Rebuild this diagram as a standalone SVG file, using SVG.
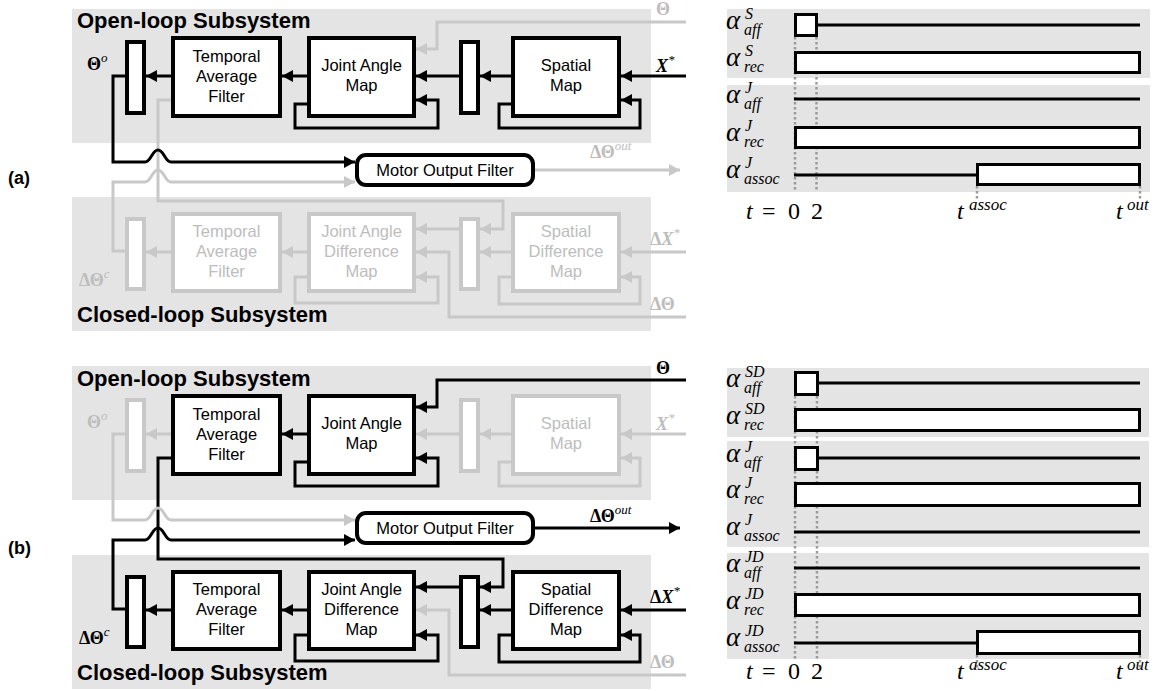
<svg xmlns="http://www.w3.org/2000/svg" width="1158" height="691" viewBox="0 0 1158 691">
<defs>
<style>
.bg{fill:#e4e4e4}
.k{fill:#fff;stroke:#000;stroke-width:4}
.g{fill:#fff;stroke:#c8c8c8;stroke-width:4}
.mof{fill:#fff;stroke:#000;stroke-width:4}
.lk{fill:none;stroke:#000;stroke-width:3;marker-end:url(#ah)}
.lg{fill:none;stroke:#c8c8c8;stroke-width:3;marker-end:url(#ahg)}
text{font-family:"Liberation Sans",Arial,sans-serif}
.tk{font-size:16.5px;text-anchor:middle;fill:#000}
.tg{font-size:16.5px;text-anchor:middle;fill:#bdbdbd}
.ttl{font-size:22px;font-weight:bold;fill:#000}
.m{font-family:"Liberation Serif","Times New Roman",serif;font-size:18px}
.mb{font-weight:bold}
.mi{font-style:italic}
.sup{font-size:13px;font-style:italic;font-weight:normal}
.gm{fill:#bdbdbd}
.tl{fill:none;stroke:#000;stroke-width:3}
.tr{fill:#fff;stroke:#000;stroke-width:3}
.dot{fill:none;stroke:#9a9a9a;stroke-width:2.5;stroke-dasharray:2.5 2.5}
.al{font-family:"Liberation Serif","Times New Roman",serif;font-size:27px;font-style:italic}
.as{font-family:"Liberation Serif","Times New Roman",serif;font-size:16px;font-style:italic}
.tt{font-family:"Liberation Serif","Times New Roman",serif;font-size:24px}
.ts{font-family:"Liberation Serif","Times New Roman",serif;font-size:17px;font-style:italic}
.panel{font-family:"Liberation Sans",Arial,sans-serif;font-size:18px;font-weight:bold}
</style>
<marker id="ah" markerUnits="userSpaceOnUse" markerWidth="11" markerHeight="12" refX="11" refY="6" orient="auto"><path d="M0,0L11,6L0,12z" fill="#000"/></marker>
<marker id="ahg" markerUnits="userSpaceOnUse" markerWidth="11" markerHeight="12" refX="11" refY="6" orient="auto"><path d="M0,0L11,6L0,12z" fill="#c8c8c8"/></marker>
</defs>

<text class="panel" x="8" y="184">(a)</text>
<text class="panel" x="8" y="554">(b)</text>

<!-- ===== Panel (a) backgrounds ===== -->
<g id="a-backgrounds">
<rect class="bg" x="72" y="9" width="579" height="134"/>
<rect class="bg" x="72" y="197" width="579" height="134"/>
<text class="ttl" x="77" y="28">Open-loop Subsystem</text>
<text class="ttl" x="77" y="322">Closed-loop Subsystem</text>
</g>

<!-- ===== Panel (a) connectors ===== -->
<g id="a-connectors">
<path class="lg" d="M686,22H437V49H416"/>
<path class="lk" d="M686,76H621"/>
<path class="lk" d="M511,76H480"/>
<path class="lk" d="M459,76H416"/>
<path class="lk" d="M307,76H282"/>
<path class="lk" d="M171,76H146"/>
<path class="lk" d="M513,104H499V128H640V100H621"/>
<path class="lk" d="M309,104H295V128H438V100H416"/>
<path class="lg" d="M171,100H158V201H503V229H480"/>
<path class="lk" d="M125,76H113V162H145C151,162 152,150 158,150C164,150 165,162 171,162H355"/>
<path class="lg" d="M125,251H113V182H145C151,182 152,170 158,170C164,170 165,182 171,182H355"/>
<path class="lg" d="M535,170H680"/>
<path class="lg" d="M686,252H621"/>
<path class="lg" d="M511,252H480"/>
<path class="lg" d="M459,229H416"/>
<path class="lg" d="M686,317H449V252H416"/>
<path class="lg" d="M513,277H499V304H640V277H621"/>
<path class="lg" d="M309,277H295V303H438V277H416"/>
<path class="lg" d="M307,252H282"/>
<path class="lg" d="M171,252H146"/>
</g>

<!-- ===== Panel (a) nodes ===== -->
<g id="a-ol-bar"><rect class="k" x="127" y="42" width="17" height="71"/></g>
<g id="a-ol-taf"><rect class="k" x="173" y="38" width="107" height="78"/>
<text class="tk" x="226.5" y="62">Temporal</text><text class="tk" x="226.5" y="82">Average</text><text class="tk" x="226.5" y="102">Filter</text></g>
<g id="a-ol-ja"><rect class="k" x="309" y="38" width="105" height="78"/>
<text class="tk" x="361.5" y="71">Joint Angle</text><text class="tk" x="361.5" y="91">Map</text></g>
<g id="a-ol-sbar"><rect class="k" x="461" y="42" width="17" height="71"/></g>
<g id="a-ol-sm"><rect class="k" x="513" y="38" width="106" height="78"/>
<text class="tk" x="566" y="71">Spatial</text><text class="tk" x="566" y="91">Map</text></g>
<g id="a-mof"><rect class="mof" x="357" y="155" width="176" height="30" rx="9"/>
<text class="tk" x="445" y="176">Motor Output Filter</text></g>
<g id="a-cl-bar"><rect class="g" x="127" y="219" width="17" height="70"/></g>
<g id="a-cl-taf"><rect class="g" x="173" y="214" width="107" height="77"/>
<text class="tg" x="226.5" y="237">Temporal</text><text class="tg" x="226.5" y="257">Average</text><text class="tg" x="226.5" y="277">Filter</text></g>
<g id="a-cl-jad"><rect class="g" x="309" y="214" width="105" height="77"/>
<text class="tg" x="361.5" y="237">Joint Angle</text><text class="tg" x="361.5" y="257">Difference</text><text class="tg" x="361.5" y="277">Map</text></g>
<g id="a-cl-sbar"><rect class="g" x="461" y="219" width="17" height="70"/></g>
<g id="a-cl-sdm"><rect class="g" x="513" y="214" width="106" height="77"/>
<text class="tg" x="566" y="237">Spatial</text><text class="tg" x="566" y="257">Difference</text><text class="tg" x="566" y="277">Map</text></g>

<g id="a-labels">
<text class="m mb" x="87" y="70">Θ<tspan class="sup" dy="-8">o</tspan></text>
<text class="m mb gm" x="656" y="15">Θ</text>
<text class="m mb mi" x="656" y="72">X<tspan class="sup" dy="-8" font-style="normal">*</tspan></text>
<text class="m mb gm" x="590" y="158">ΔΘ<tspan class="sup" dy="-8">out</tspan></text>
<text class="m mb gm" x="79" y="286">ΔΘ<tspan class="sup" dy="-8">c</tspan></text>
<text class="m mb gm" x="650" y="245">Δ<tspan font-style="italic">X</tspan><tspan class="sup" dy="-8" font-style="normal">*</tspan></text>
<text class="m mb gm" x="650" y="310">ΔΘ</text>
</g>

<!-- ===== Panel (a) timing ===== -->
<g id="a-timing">
<rect class="bg" x="727" y="9" width="423" height="69"/>
<rect class="bg" x="727" y="85" width="423" height="107"/>
<path class="dot" d="M795,37V192M816.5,37V192M977,186V200M1140,186V200"/>
<rect class="tr" x="795.5" y="14.5" width="21" height="21"/>
<path class="tl" d="M817,25H1140"/>
<rect class="tr" x="795.5" y="52.5" width="344" height="20"/>
<path class="tl" d="M794,99H1140"/>
<rect class="tr" x="795.5" y="127.5" width="344" height="20"/>
<path class="tl" d="M794,175H977"/>
<rect class="tr" x="977.5" y="164.5" width="162" height="20"/>
<text class="al" x="726" y="29">α</text><text class="as" x="745" y="19">S</text><text class="as" x="744" y="35">aff</text>
<text class="al" x="726" y="66">α</text><text class="as" x="745" y="56">S</text><text class="as" x="744" y="72">rec</text>
<text class="al" x="726" y="103">α</text><text class="as" x="745" y="93">J</text><text class="as" x="744" y="109">aff</text>
<text class="al" x="726" y="141">α</text><text class="as" x="745" y="131">J</text><text class="as" x="744" y="147">rec</text>
<text class="al" x="726" y="178">α</text><text class="as" x="745" y="168">J</text><text class="as" x="744" y="184">assoc</text>
<text class="tt" x="746" y="219" font-style="italic">t</text><text class="tt" x="762" y="219">=</text>
<text class="tt" x="788" y="219">0</text><text class="tt" x="811" y="219">2</text>
<text class="tt" x="957" y="219" font-style="italic">t</text><text class="ts" x="969" y="210">assoc</text>
<text class="tt" x="1116" y="219" font-style="italic">t</text><text class="ts" x="1127" y="210">out</text>
</g>

<!-- ===== Panel (b) backgrounds ===== -->
<g id="b-backgrounds">
<rect class="bg" x="72" y="366" width="579" height="134"/>
<rect class="bg" x="72" y="555" width="579" height="134"/>
<text class="ttl" x="77" y="386">Open-loop Subsystem</text>
<text class="ttl" x="77" y="680">Closed-loop Subsystem</text>
</g>

<!-- ===== Panel (b) connectors ===== -->
<g id="b-connectors">
<path class="lk" d="M686,380H437V407H416"/>
<path class="lg" d="M686,434H621"/>
<path class="lg" d="M511,434H480"/>
<path class="lg" d="M459,434H416"/>
<path class="lk" d="M307,434H282"/>
<path class="lg" d="M171,434H146"/>
<path class="lg" d="M513,462H499V486H640V458H621"/>
<path class="lk" d="M309,462H295V486H438V458H416"/>
<path class="lk" d="M171,458H158V559H503V587H480"/>
<path class="lg" d="M125,434H113V520H145C151,520 152,508 158,508C164,508 165,520 171,520H355"/>
<path class="lk" d="M125,609H113V540H145C151,540 152,528 158,528C164,528 165,540 171,540H355"/>
<path class="lk" d="M535,528H680"/>
<path class="lk" d="M686,610H621"/>
<path class="lk" d="M511,610H480"/>
<path class="lk" d="M459,587H416"/>
<path class="lg" d="M686,675H449V610H416"/>
<path class="lk" d="M513,635H499V662H640V635H621"/>
<path class="lk" d="M309,635H295V661H438V635H416"/>
<path class="lk" d="M307,610H282"/>
<path class="lk" d="M171,610H146"/>
</g>

<!-- ===== Panel (b) nodes ===== -->
<g id="b-ol-bar"><rect class="g" x="127" y="400" width="17" height="71"/></g>
<g id="b-ol-taf"><rect class="k" x="173" y="396" width="107" height="78"/>
<text class="tk" x="226.5" y="420">Temporal</text><text class="tk" x="226.5" y="440">Average</text><text class="tk" x="226.5" y="460">Filter</text></g>
<g id="b-ol-ja"><rect class="k" x="309" y="396" width="105" height="78"/>
<text class="tk" x="361.5" y="429">Joint Angle</text><text class="tk" x="361.5" y="449">Map</text></g>
<g id="b-ol-sbar"><rect class="g" x="461" y="400" width="17" height="71"/></g>
<g id="b-ol-sm"><rect class="g" x="513" y="396" width="106" height="78"/>
<text class="tg" x="566" y="429">Spatial</text><text class="tg" x="566" y="449">Map</text></g>
<g id="b-mof"><rect class="mof" x="357" y="513" width="176" height="30" rx="9"/>
<text class="tk" x="445" y="534">Motor Output Filter</text></g>
<g id="b-cl-bar"><rect class="k" x="127" y="577" width="17" height="70"/></g>
<g id="b-cl-taf"><rect class="k" x="173" y="572" width="107" height="77"/>
<text class="tk" x="226.5" y="595">Temporal</text><text class="tk" x="226.5" y="615">Average</text><text class="tk" x="226.5" y="635">Filter</text></g>
<g id="b-cl-jad"><rect class="k" x="309" y="572" width="105" height="77"/>
<text class="tk" x="361.5" y="595">Joint Angle</text><text class="tk" x="361.5" y="615">Difference</text><text class="tk" x="361.5" y="635">Map</text></g>
<g id="b-cl-sbar"><rect class="k" x="461" y="577" width="17" height="70"/></g>
<g id="b-cl-sdm"><rect class="k" x="513" y="572" width="106" height="77"/>
<text class="tk" x="566" y="595">Spatial</text><text class="tk" x="566" y="615">Difference</text><text class="tk" x="566" y="635">Map</text></g>

<g id="b-labels">
<text class="m mb gm" x="87" y="428">Θ<tspan class="sup" dy="-8">o</tspan></text>
<text class="m mb" x="656" y="374">Θ</text>
<text class="m mb mi gm" x="656" y="430">X<tspan class="sup" dy="-8" font-style="normal">*</tspan></text>
<text class="m mb" x="590" y="522">ΔΘ<tspan class="sup" dy="-8">out</tspan></text>
<text class="m mb" x="79" y="644">ΔΘ<tspan class="sup" dy="-8">c</tspan></text>
<text class="m mb" x="650" y="603">Δ<tspan font-style="italic">X</tspan><tspan class="sup" dy="-8" font-style="normal">*</tspan></text>
<text class="m mb gm" x="650" y="668">ΔΘ</text>
</g>

<!-- ===== Panel (b) timing ===== -->
<g id="b-timing">
<rect class="bg" x="727" y="368" width="422" height="69"/>
<rect class="bg" x="727" y="441" width="422" height="106"/>
<rect class="bg" x="727" y="553" width="422" height="106"/>
<path class="dot" d="M795,396V659M817,396V659M977,655V668M1140,655V668"/>
<rect class="tr" x="795.5" y="372.5" width="22" height="22"/>
<path class="tl" d="M818,383H1140"/>
<rect class="tr" x="795.5" y="409.5" width="344" height="21"/>
<rect class="tr" x="795.5" y="447.5" width="22" height="22"/>
<path class="tl" d="M818,458H1140"/>
<rect class="tr" x="795.5" y="483.5" width="344" height="22"/>
<path class="tl" d="M794,532H1140"/>
<path class="tl" d="M794,568H1140"/>
<rect class="tr" x="795.5" y="594.5" width="344" height="21"/>
<path class="tl" d="M794,643H977"/>
<rect class="tr" x="977.5" y="631.5" width="162" height="22"/>
<text class="al" x="726" y="387">α</text><text class="as" x="745" y="377">SD</text><text class="as" x="744" y="393">aff</text>
<text class="al" x="726" y="424">α</text><text class="as" x="745" y="414">SD</text><text class="as" x="744" y="430">rec</text>
<text class="al" x="726" y="462">α</text><text class="as" x="745" y="452">J</text><text class="as" x="744" y="468">aff</text>
<text class="al" x="726" y="498">α</text><text class="as" x="745" y="488">J</text><text class="as" x="744" y="504">rec</text>
<text class="al" x="726" y="535">α</text><text class="as" x="745" y="525">J</text><text class="as" x="744" y="541">assoc</text>
<text class="al" x="726" y="572">α</text><text class="as" x="745" y="562">JD</text><text class="as" x="744" y="578">aff</text>
<text class="al" x="726" y="609">α</text><text class="as" x="745" y="599">JD</text><text class="as" x="744" y="615">rec</text>
<text class="al" x="726" y="646">α</text><text class="as" x="745" y="636">JD</text><text class="as" x="744" y="652">assoc</text>
<text class="tt" x="746" y="679" font-style="italic">t</text><text class="tt" x="762" y="679">=</text>
<text class="tt" x="788" y="679">0</text><text class="tt" x="811" y="679">2</text>
<text class="tt" x="957" y="679" font-style="italic">t</text><text class="ts" x="969" y="670">assoc</text>
<text class="tt" x="1116" y="679" font-style="italic">t</text><text class="ts" x="1127" y="670">out</text>
</g>
</svg>
